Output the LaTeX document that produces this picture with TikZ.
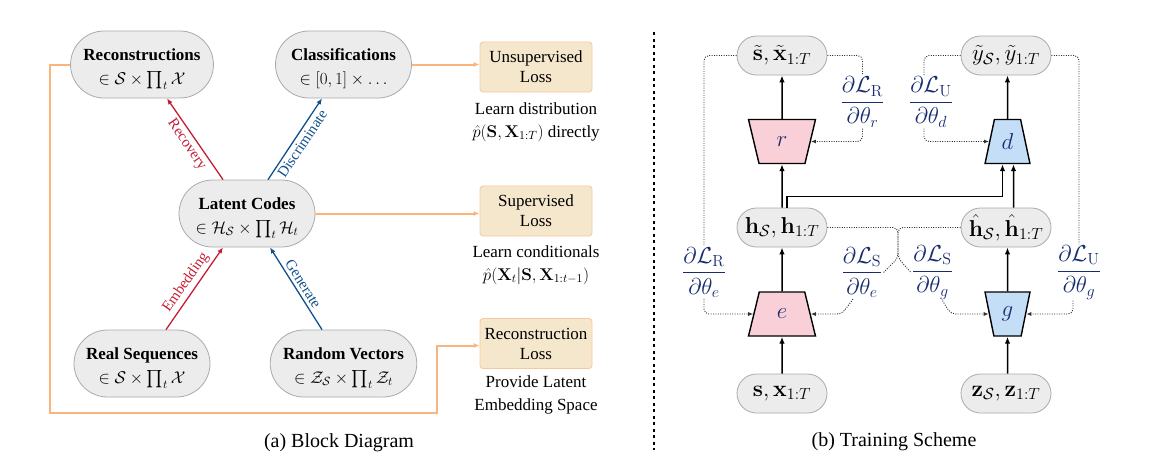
\RequirePackage{fix-cm}
\documentclass[tikz,border=0pt]{standalone}
\usepackage{amsmath}
\usepackage[no-math]{fontspec}
\setmainfont{Liberation Serif}
\usetikzlibrary{shapes.geometric,shapes.misc,arrows.meta}
\definecolor{pillfill}{RGB}{236,236,236}
\definecolor{pilldraw}{RGB}{170,170,170}
\definecolor{lossfill}{RGB}{245,231,203}
\definecolor{lossdraw}{RGB}{245,200,158}
\definecolor{orangeline}{RGB}{250,180,125}
\definecolor{redarr}{RGB}{196,30,52}
\definecolor{bluearr}{RGB}{16,80,140}
\definecolor{pinkfill}{RGB}{249,208,216}
\definecolor{bluefill}{RGB}{196,222,248}
\definecolor{navy}{RGB}{25,45,110}
\definecolor{dotcol}{RGB}{50,50,50}
\newcommand{\topstrut}{\rule{0pt}{20.5pt}}
\begin{document}
\begin{tikzpicture}[x=1pt,y=-1pt,
  pill/.style={rounded rectangle, draw=pilldraw, fill=pillfill, line width=0.8pt,
    minimum width=140pt, minimum height=67pt, align=center, inner sep=2pt,
    font=\fontsize{17}{24}\selectfont},
  rpill/.style={rounded rectangle, draw=pilldraw, fill=pillfill, line width=0.8pt,
    minimum width=94pt, minimum height=39pt, inner sep=2pt,
    font=\fontsize{23}{26}\selectfont},
  lossbox/.style={rectangle, rounded corners=3pt, draw=lossdraw, fill=lossfill, line width=0.8pt,
    minimum width=112pt, minimum height=50pt, align=center, inner sep=2pt,
    font=\fontsize{17}{20}\selectfont},
  anno/.style={align=center, inner sep=0pt, font=\fontsize{17}{23}\selectfont},
  caption/.style={inner sep=0pt, font=\fontsize{20}{24}\selectfont},
  arrlabel/.style={sloped, inner sep=3pt, font=\fontsize{15}{17}\selectfont},
  redarrow/.style={draw=redarr, line width=1.3pt, -{Latex[length=6pt,width=5pt]}},
  bluearrow/.style={draw=bluearr, line width=1.3pt, -{Latex[length=6pt,width=5pt]}},
  orangearrow/.style={draw=orangeline, line width=2pt, -{Latex[length=6pt,width=5pt]}},
  blackarrow/.style={draw=black, line width=1.5pt, -{Latex[length=7pt,width=5.5pt]}},
  dotline/.style={draw=dotcol, line width=0.9pt, dash pattern=on 1pt off 1.4pt, rounded corners=5pt},
  dotarrow/.style={dotline, -{Latex[length=5pt,width=4pt]}},
  trap/.style={trapezium, draw=black, line width=1.4pt, trapezium stretches=true,
    minimum height=44pt, inner sep=0pt, font=\fontsize{23}{26}\selectfont\color{navy}},
  fraclabel/.style={inner sep=1pt, text=navy, font=\fontsize{23}{26}\selectfont}
]
\useasboundingbox (0,0) rectangle (1149,467);

% ---------- (a) Block diagram ----------
\node[pill] (rec) at (142,64.5) {\topstrut\textbf{Reconstructions}\\$\in\mathcal{S}\times\prod_t\mathcal{X}$};
\node[pill] (cls) at (343.5,64.5) {\topstrut\textbf{Classifications}\\$\in[0,1]\times\ldots$};
\node[pill] (lat) at (247,213.5) {\topstrut\textbf{Latent Codes}\\$\in\mathcal{H}_\mathcal{S}\times\prod_t\mathcal{H}_t$};
\node[pill] (real) at (142,363.5) {\topstrut\textbf{Real Sequences}\\$\in\mathcal{S}\times\prod_t\mathcal{X}$};
\node[pill] (rand) at (343.5,363.5) {\topstrut\textbf{Random Vectors}\\$\in\mathcal{Z}_\mathcal{S}\times\prod_t\mathcal{Z}_t$};

\node[lossbox] (ul) at (536,67) {Unsupervised\\Loss};
\node[lossbox] (sl) at (536,211) {Supervised\\Loss};
\node[lossbox] (rl) at (536,343.5) {Reconstruction\\Loss};

\node[anno] (a1) at (536,122) {Learn distribution\\$\hat{p}(\mathbf{S},\mathbf{X}_{1:T})$ directly};
\node[anno] (a2) at (536,265) {Learn conditionals\\$\hat{p}(\mathbf{X}_t|\mathbf{S},\mathbf{X}_{1:t-1})$};
\node[anno] (a3) at (536,395) {Provide Latent\\Embedding Space};

\draw[redarrow] ([xshift=-24pt]lat.north) -- node[arrlabel, below, text=redarr] {Recovery} ([xshift=25pt]rec.south);
\draw[bluearrow] ([xshift=21pt]lat.north) -- node[arrlabel, below, text=bluearr] {Discriminate} ([xshift=-21.5pt]cls.south);
\draw[redarrow] ([xshift=24pt]real.north) -- node[arrlabel, above, text=redarr] {Embedding} ([xshift=-24pt]lat.south);
\draw[bluearrow] ([xshift=-21.5pt]rand.north) -- node[arrlabel, above, text=bluearr] {Generate} ([xshift=23pt]lat.south);

\draw[orangearrow] (cls.east) -- (cls.east -| ul.west);
\draw[orangearrow] (lat.east) -- (lat.east -| sl.west);
\draw[orangearrow] (rec.west) -- ++(-20,0) |- (437,413) |- ([yshift=-2pt]rl.west);

\node[caption] (capa) at (339,443) {(a) Block Diagram};

\draw[line width=1.5pt, dash pattern=on 3pt off 3.5pt] (654,32) -- (654,450);

% ---------- (b) Training scheme ----------
\node[rpill] (xt) at (782,55.5) {$\tilde{\mathbf{s}},\tilde{\mathbf{x}}_{1:T}$};
\node[rpill] (yt) at (1006,55.5) {$\tilde{y}_\mathcal{S},\tilde{y}_{1:T}$};
\node[rpill] (h) at (782,227.5) {$\mathbf{h}_\mathcal{S},\mathbf{h}_{1:T}$};
\node[rpill] (hh) at (1006,227.5) {$\hat{\mathbf{h}}_\mathcal{S},\hat{\mathbf{h}}_{1:T}$};
\node[rpill] (sx) at (782,393.5) {$\mathbf{s},\mathbf{x}_{1:T}$};
\node[rpill] (z) at (1006,393.5) {$\mathbf{z}_\mathcal{S},\mathbf{z}_{1:T}$};

\node[trap, fill=pinkfill, minimum width=67pt, trapezium angle=76, shape border rotate=180] (r) at (782,141.5) {$r$};
\node[trap, fill=pinkfill, minimum width=67pt, trapezium angle=76] (e) at (782,314) {$e$};
\node[trap, fill=bluefill, minimum width=45pt, trapezium angle=75.3] (d) at (1007.5,141.5) {$d$};
\node[trap, fill=bluefill, minimum width=45pt, trapezium angle=75.3, shape border rotate=180] (g) at (1007.5,314) {$g$};

\draw[blackarrow] (sx.north -| e) -- (e.south);
\draw[blackarrow] (e.north) -- (h.south -| e);
\draw[blackarrow] (h.north -| r) -- (r.south);
\draw[blackarrow] (r.north) -- (xt.south -| r);
\draw[blackarrow] (z.north -| g) -- (g.south);
\draw[blackarrow] (g.north) -- (hh.south -| g);
\draw[blackarrow] (d.north) -- (yt.south -| d);
\draw[blackarrow] ([xshift=6pt]hh.north -| d) -- ([xshift=6pt]d.south);
\draw[blackarrow] ([xshift=5pt]h.north) -- ++(0,-11) -| ([xshift=-5pt]d.south);

\node[fraclabel] (fRr) at (862.5,102) {$\dfrac{\partial\mathcal{L}_\mathrm{R}}{\partial\theta_r}$};
\node[fraclabel] (fUd) at (931,102) {$\dfrac{\partial\mathcal{L}_\mathrm{U}}{\partial\theta_d}$};
\node[fraclabel] (fRe) at (704,272.5) {$\dfrac{\partial\mathcal{L}_\mathrm{R}}{\partial\theta_e}$};
\node[fraclabel] (fSe) at (862,272.5) {$\dfrac{\partial\mathcal{L}_\mathrm{S}}{\partial\theta_e}$};
\node[fraclabel] (fSg) at (932.5,272.5) {$\dfrac{\partial\mathcal{L}_\mathrm{S}}{\partial\theta_g}$};
\node[fraclabel] (fUg) at (1079,272.5) {$\dfrac{\partial\mathcal{L}_\mathrm{U}}{\partial\theta_g}$};

\draw[dotline] (xt.west) -| (fRe.north);
\draw[dotarrow] (fRe.south) |- (e.west);
\draw[dotline] (xt.east) -| (fRr.north);
\draw[dotarrow] (fRr.south) |- (r.east);
\draw[dotline] (yt.west) -| ([xshift=-7pt]fUd.north);
\draw[dotarrow] ([xshift=-7pt]fUd.south) |- (d.west);
\draw[dotline] (yt.east) -| (fUg.north);
\draw[dotarrow] ([xshift=-6pt]fUg.south) |- (g.east);

\coordinate (jn) at (898,258);
\draw[dotline] (h.east) -| (jn) -- (fSe.east);
\draw[dotline] (hh.west) -| (jn) -- (fSg.west);
\draw[dotarrow] ([xshift=-9pt]fSe.south) -- ([xshift=31pt]e.east) -- (e.east);
\draw[dotarrow] ([xshift=10pt]fSg.south) -- ([xshift=-38pt]g.west) -- (g.west);

\node[caption] (capb) at (894,442) {(b) Training Scheme};
\end{tikzpicture}
\end{document}
